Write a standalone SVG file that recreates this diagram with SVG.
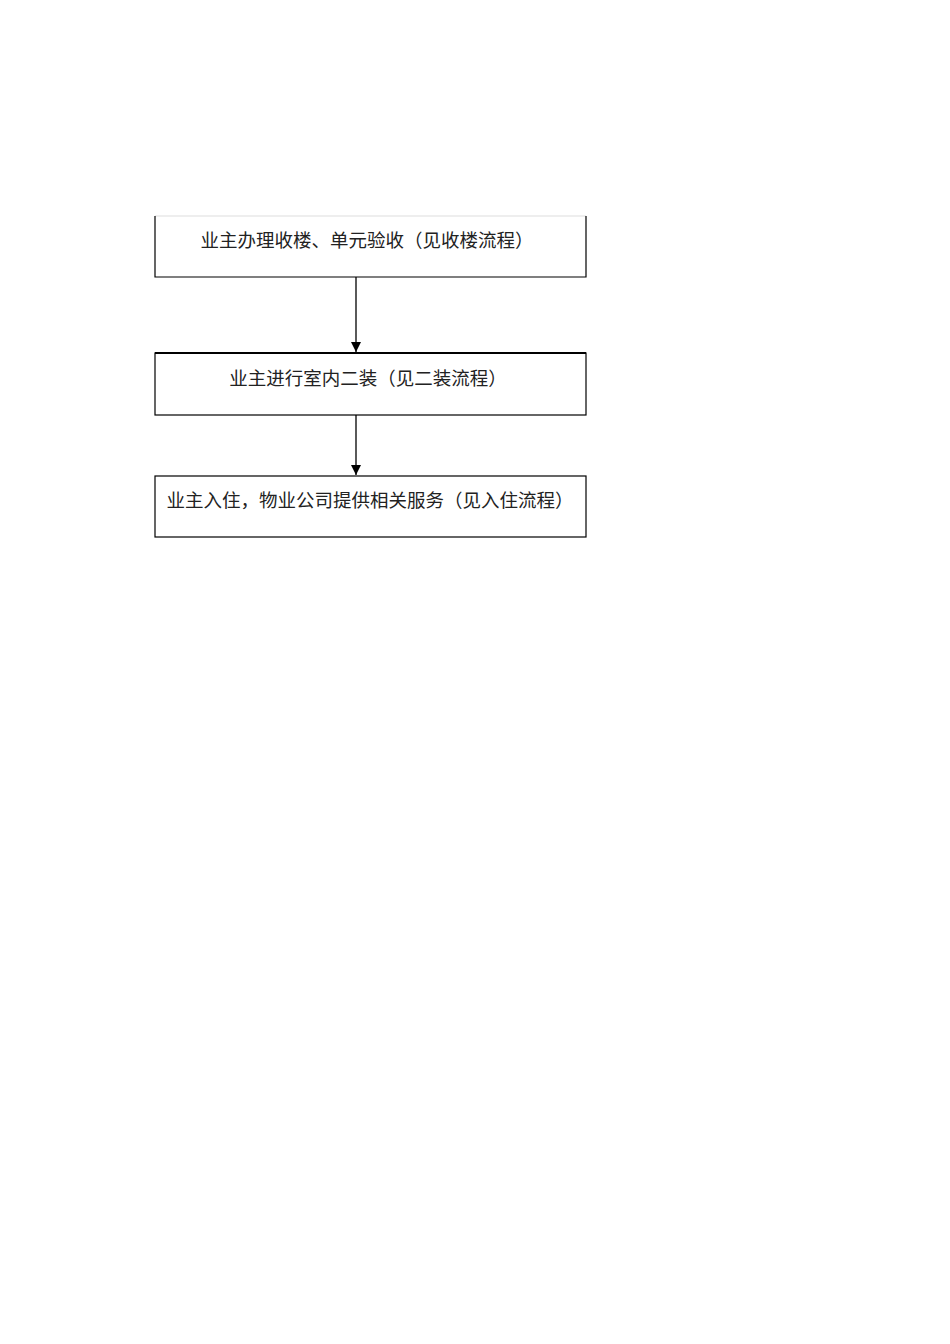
<svg xmlns="http://www.w3.org/2000/svg" width="950" height="1344" viewBox="0 0 950 1344">
<style>
.box{fill:#fff;stroke:#000;stroke-width:1.2}
.t{font-family:"Noto Sans CJK SC","Noto Sans CJK JP",sans-serif;font-size:18.5px;fill:#222;text-anchor:middle}
.c{stroke:#000;stroke-width:1.3;fill:none}
</style>
<defs>
<marker id="ah" viewBox="0 0 10 10" refX="10" refY="5" markerWidth="10" markerHeight="10" markerUnits="userSpaceOnUse" orient="auto">
<path d="M0,0 L10,5 L0,10 z" fill="#000"/>
</marker>
</defs>
<rect width="950" height="1344" fill="#fff"/>
<g id="node1">
<path d="M155,216 L586,216" stroke="#ddd" stroke-width="1"/>
<path d="M155,216 L155,277 L586,277 L586,216" fill="none" stroke="#000" stroke-width="1.2"/>
<text class="t" x="367" y="247">业主办理收楼、单元验收（见收楼流程）</text>
</g>
<g id="node2">
<rect class="box" x="155" y="353" width="431" height="62"/>
<path d="M155,353 L586,353" stroke="#000" stroke-width="2"/>
<text class="t" x="368" y="385">业主进行室内二装（见二装流程）</text>
</g>
<g id="node3">
<rect class="box" x="155" y="476" width="431" height="61"/>
<text class="t" x="370" y="507">业主入住，物业公司提供相关服务（见入住流程）</text>
</g>
<g id="connectors">
<line class="c" x1="356" y1="277" x2="356" y2="352" marker-end="url(#ah)"/>
<line class="c" x1="356" y1="415" x2="356" y2="475" marker-end="url(#ah)"/>
</g>
</svg>
